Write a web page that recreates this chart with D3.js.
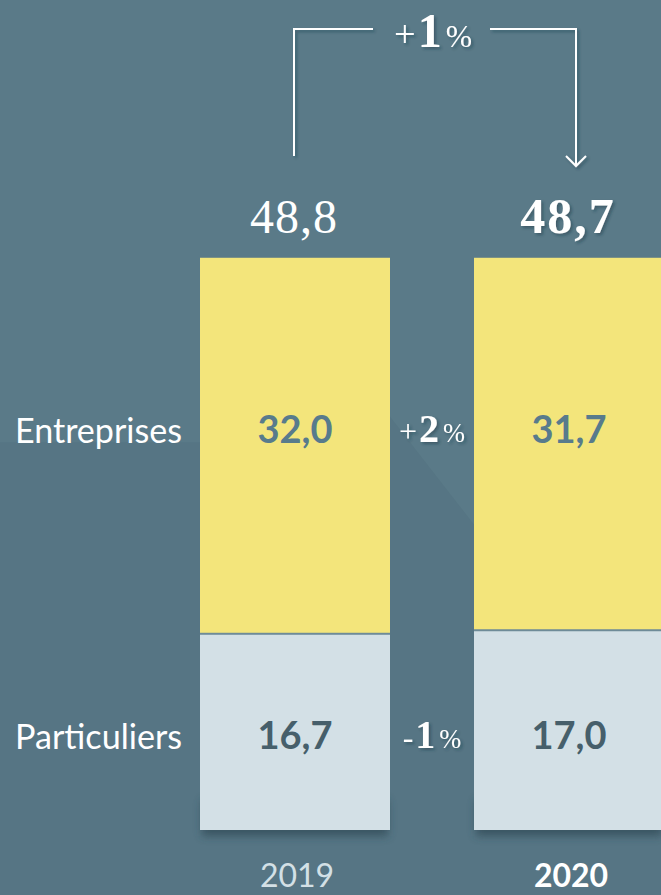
<!DOCTYPE html>
<html><head><meta charset="utf-8">
<script src="https://cdn.jsdelivr.net/npm/d3@7"></script>
<style>
html,body{margin:0;padding:0;background:#5a7a88;overflow:hidden}
svg{display:block}
</style></head>
<body>
<script>
// ---- data ----
const years = ["2019", "2020"];
const categories = ["Entreprises", "Particuliers"];
const entreprises = [32.0, 31.7];
const particuliers = [16.7, 17.0];
const totals = [48.8, 48.7];
const categoryChanges = ["+2", "-1"];   // Entreprises, Particuliers
const totalChange = "+1";

// ---- setup ----
const W = 661, H = 895;
const BG = "#5a7a88", YELLOW = "#f3e57b", GREY = "#d3e0e6";
const fmt = d3.formatLocale({decimal: ",", thousands: " ", grouping: [3], currency: ["", "€"]}).format(".1f");

const svg = d3.select("body").append("svg").attr("width", W).attr("height", H);
const defs = svg.append("defs");
const sh = defs.append("filter").attr("id", "sh").attr("x", "-20%").attr("y", "-20%").attr("width", "150%").attr("height", "150%");
sh.append("feDropShadow").attr("dx", 2).attr("dy", 2).attr("stdDeviation", 1.5).attr("flood-color", "#1e3440").attr("flood-opacity", 0.45);
const blur = defs.append("filter").attr("id", "blur").attr("filterUnits", "userSpaceOnUse")
  .attr("x", 0).attr("y", 0).attr("width", W).attr("height", H);
blur.append("feGaussianBlur").attr("stdDeviation", 4);

svg.append("rect").attr("width", W).attr("height", H).attr("fill", BG);

const x = d3.scaleBand().domain(years).range([200, 664]).paddingInner(84 / 274).paddingOuter(0);
const y = d3.scaleLinear().domain([0, 50]).range([830, 242.5]);
const bw = x.bandwidth();
const cx = d => x(d) + bw / 2;

// subtle darker shade behind
svg.append("path")
  .attr("d", `M0,${y(33)} L${x("2019") + bw},${y(33)} L${x("2019") + bw},${y(35.2)} L${x("2020")},${y(26)} L${x("2020")},${y(0)} L${W},${y(0)} L${W},${H} L0,${H} Z`)
  .attr("fill", "#0d2a38").attr("opacity", 0.05);

// bars
const stacks = years.map((yr, i) => ({year: yr, parts: [
  {cat: categories[1], y0: 0, y1: particuliers[i], v: particuliers[i], fill: GREY, text: "#465f6b"},
  {cat: categories[0], y0: particuliers[i], y1: particuliers[i] + entreprises[i], v: entreprises[i], fill: YELLOW, text: "#587b8c"}
]}));

const g = svg.selectAll("g.bar").data(stacks).join("g").attr("class", "bar");
// shadow
g.append("rect")
  .attr("x", d => x(d.year) + 2).attr("width", bw - 4)
  .attr("y", d => y(0) - 30).attr("height", 36)
  .attr("fill", "#263f4b").attr("opacity", 0.6).attr("filter", "url(#blur)");
g.selectAll("rect.seg").data(d => d.parts.map(p => ({...p, year: d.year}))).join("rect")
  .attr("class", "seg")
  .attr("x", d => x(d.year)).attr("width", bw)
  .attr("y", d => y(d.y1)).attr("height", d => y(d.y0) - y(d.y1))
  .attr("fill", d => d.fill);
// separator line
g.append("rect")
  .attr("x", d => x(d.year)).attr("width", bw)
  .attr("y", d => y(d.parts[0].y1) - 1).attr("height", 2)
  .attr("fill", "#6e8b98");

// value labels in bars
const rowBase = {Entreprises: 443, Particuliers: 749};
g.selectAll("text.val").data(d => d.parts.map(p => ({...p, year: d.year}))).join("text")
  .attr("class", "val")
  .attr("x", d => cx(d.year)).attr("y", d => rowBase[d.cat])
  .attr("text-anchor", "middle")
  .attr("font-family", "Lato, 'Open Sans', sans-serif").attr("font-weight", 700).attr("font-size", 38)
  .attr("fill", d => d.text)
  .text(d => fmt(d.v));

// category labels
svg.selectAll("text.cat").data(categories).join("text")
  .attr("class", "cat")
  .attr("x", 15).attr("y", d => rowBase[d])
  .attr("font-family", "Lato, 'Open Sans', sans-serif").attr("font-size", 34)
  .attr("fill", "#ffffff")
  .attr("textLength", 167).attr("lengthAdjust", "spacingAndGlyphs")
  .text(d => d);

// totals
svg.selectAll("text.tot").data(years).join("text")
  .attr("class", "tot")
  .attr("x", d => cx(d) - 1).attr("y", 233)
  .attr("text-anchor", "middle")
  .attr("font-family", "'Liberation Serif', 'Times New Roman', serif")
  .attr("font-weight", (d, i) => i === 1 ? 700 : 400)
  .attr("font-size", (d, i) => i === 1 ? 50 : 48)
  .attr("letter-spacing", (d, i) => i === 1 ? 2 : 1)
  .attr("fill", "#ffffff")
  .attr("filter", (d, i) => i === 1 ? "url(#sh)" : null)
  .text((d, i) => fmt(totals[i]));

// year labels
svg.selectAll("text.yr").data(years).join("text")
  .attr("class", "yr")
  .attr("x", d => cx(d) + 2).attr("y", 887)
  .attr("text-anchor", "middle")
  .attr("font-family", "Lato, 'Open Sans', sans-serif")
  .attr("font-weight", (d, i) => i === 1 ? 700 : 400)
  .attr("font-size", 32)
  .attr("fill", (d, i) => i === 1 ? "#ffffff" : "#d3e0e6")
  .text(d => d);

// percent change labels
function pct(sel, sign, num, xc, base, big) {
  const t = sel.append("text").attr("x", xc).attr("y", base).attr("text-anchor", "middle")
    .attr("font-family", "'Liberation Serif', 'Times New Roman', serif").attr("fill", "#ffffff").attr("filter", "url(#sh)");
  t.append("tspan").attr("font-size", big * 0.8).attr("font-weight", 400).text(sign);
  t.append("tspan").attr("font-size", big).attr("font-weight", 700).attr("dx", 2).text(num);
  t.append("tspan").attr("font-size", big * 0.66).attr("font-weight", 400).attr("dx", 4).text("%");
}
const midX = (x("2019") + bw + x("2020")) / 2;
categories.forEach((c, i) => {
  const s = categoryChanges[i];
  pct(svg, s[0], s.slice(1), midX, rowBase[c] - 1, 40);
});

// bracket with arrow
const xa = cx("2019") - 1, xb = cx("2020") + 7, yt = 29;
const br = svg.append("g").attr("fill", "none").attr("stroke", "#ffffff").attr("stroke-width", 2).attr("filter", "url(#sh)");
br.append("path").attr("d", `M${xa},156 V${yt} H373`);
br.append("path").attr("d", `M490,${yt} H${xb} V166`);
br.append("path").attr("d", `M${xb - 10},156 L${xb},166 L${xb + 10},156`);
pct(svg, totalChange[0], totalChange.slice(1), 433, 47, 48);
</script>
</body></html>
